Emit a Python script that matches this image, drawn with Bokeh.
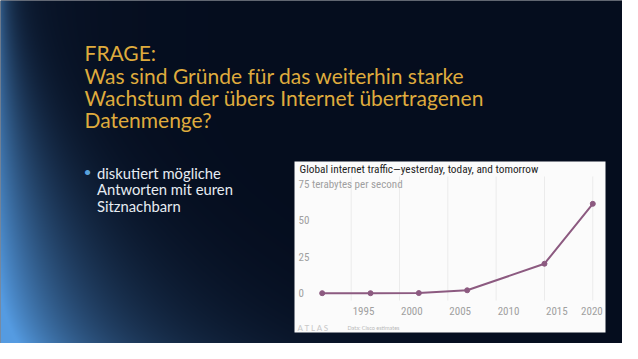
import numpy as np
from bokeh.plotting import figure
from bokeh.models import Range1d
from bokeh.core.properties import value
from bokeh.embed import file_html
from bokeh.resources import INLINE

# ---------------- data ----------------
years = [1992, 1997, 2002, 2007, 2015, 2020]
traffic_tbps = [0.0000012, 0.000028, 0.1, 2.0, 20.235, 61.386]
x_ticks = [1995, 2000, 2005, 2010, 2015, 2020]
x_tick_labels = ["1995", "2000", "2005", "2010", "2015", "2020"]
y_ticks = [0, 25, 50]
y_tick_labels = ["0", "25", "50"]
y_top_tick = [75]
y_top_label = ["75 terabytes per second"]
chart_title = "Global internet traffic\u2014yesterday, today, and tomorrow"
source_note = "Data: Cisco estimates"
brand = "A T L A S"

slide_title = ["FRAGE:", "Was sind Gr\u00fcnde f\u00fcr das weiterhin starke",
               "Wachstum der \u00fcbers Internet \u00fcbertragenen", "Datenmenge?"]
bullet_lines = ["diskutiert m\u00f6gliche", "Antworten mit euren", "Sitznachbarn"]

# ---------------- geometry (pixels, y downward) ----------------
W, H = 622, 343
SW, SH = 638, 359
CX0, CX1, CY0, CY1 = 294, 605, 161, 332   # white chart box
PX_PER_YEAR = 9.664
PX_PER_UNIT = 1.456
X_AT_1992 = 321.7
Y_AT_0 = 292.7
CHART_FONT = value("Liberation Sans Narrow, Roboto Condensed, Roboto")


def px2x(px):
    return 1992 + (px - X_AT_1992) / PX_PER_YEAR


def px2y(py):
    return (Y_AT_0 - py) / PX_PER_UNIT


# background gradient image (slide pixels)
BASE = np.array([5, 13, 30], dtype=float)
GLOW = np.array([85, 155, 225], dtype=float)
xx, yy = np.meshgrid(np.arange(SW, dtype=float), np.arange(SH, dtype=float))
t = yy / SH
w = 12 + 95 * t ** 1.5
amp = 0.42 + 0.58 * t ** 1.2
I = amp * np.exp(-xx / w)
I += 0.22 * np.exp(-(SH - yy) / 30.0) * np.exp(-xx / 170.0)
I += 0.10 * np.exp(-xx / 70.0)
I = np.clip(I, 0, 1)[..., None]
rgb = BASE + I * (GLOW - BASE)
rgb = np.flipud(rgb).astype(np.uint8)   # row 0 = bottom
img = np.empty((SH, SW), dtype=np.uint32)
view = img.view(dtype=np.uint8).reshape((SH, SW, 4))
view[..., :3] = rgb
view[..., 3] = 255

p = figure(width=W, height=H, output_backend="svg", toolbar_location=None,
           x_range=Range1d(px2x(0), px2x(W)), y_range=Range1d(px2y(H), px2y(0)),
           min_border=0, min_border_left=0, min_border_right=0,
           min_border_top=0, min_border_bottom=0)
p.axis.visible = False
p.grid.visible = False
p.outline_line_color = None
p.background_fill_color = "#050d1e"
p.border_fill_color = "#050d1e"

p.image_rgba(image=[img], x=px2x(0), y=px2y(SH), dw=SW / PX_PER_YEAR, dh=SH / PX_PER_UNIT)

# slide text
p.text(x=[px2x(84)] * 4, y=[px2y(v) for v in (52, 75, 97, 119)], text=slide_title,
       text_color="#dfab3d", text_font=value("Lato"), text_font_size="21px",
       text_baseline="middle", text_align="left")
p.text(x=[px2x(87)], y=[px2y(171)], text=["\u2022"], text_color="#5aa2dc",
       text_font=value("Lato"), text_font_size="14px", text_baseline="middle", text_align="center")
p.text(x=[px2x(96.5)] * 3, y=[px2y(v) for v in (172, 188.5, 205)], text=bullet_lines,
       text_color="#e6ecf2", text_font=value("Lato"), text_font_size="14.8px",
       text_baseline="middle", text_align="left")

# chart box
p.quad(left=px2x(CX0), right=px2x(CX1), top=px2y(CY0), bottom=px2y(CY1),
       fill_color="#fbfbfb", line_color=None)

# vertical grid
p.segment(x0=x_ticks, x1=x_ticks, y0=px2y(300), y1=px2y(176), line_color="#ebebeb", line_width=1)

# series
p.line(years, traffic_tbps, line_color="#8c5a80", line_width=2)
p.scatter(years, traffic_tbps, size=5, fill_color="#8c5a80", line_color="#8c5a80")

# y labels
p.text(x=[px2x(CX0)] * len(y_ticks), y=y_ticks, text=y_tick_labels, x_offset=4,
       text_color="#a0a0a0", text_font=CHART_FONT, text_font_size="11px",
       text_baseline="middle", text_align="left")
p.text(x=[px2x(CX0)], y=y_top_tick, text=y_top_label, x_offset=4,
       text_color="#a0a0a0", text_font=CHART_FONT, text_font_size="11px",
       text_baseline="middle", text_align="left")

# x labels (to the right of their grid line; last one kept inside the box)
p.text(x=x_ticks[:-1], y=[0] * (len(x_ticks) - 1), text=x_tick_labels[:-1], x_offset=1.5, y_offset=18,
       text_color="#a0a0a0", text_font=CHART_FONT, text_font_size="11px",
       text_baseline="middle", text_align="left")
p.text(x=x_ticks[-1:], y=[0], text=x_tick_labels[-1:], x_offset=10, y_offset=18,
       text_color="#a0a0a0", text_font=CHART_FONT, text_font_size="11px",
       text_baseline="middle", text_align="right")

# chart title and footer
p.text(x=[px2x(299)], y=[px2y(168.5)], text=[chart_title],
       text_color="#1e1e1e", text_font=CHART_FONT, text_font_size="11.3px",
       text_baseline="middle", text_align="left")
p.text(x=[px2x(297)], y=[px2y(327.5)], text=[brand],
       text_color="#c8c8c8", text_font=value("Lato"), text_font_size="8px",
       text_baseline="middle", text_align="left")
p.text(x=[px2x(347)], y=[px2y(327.5)], text=[source_note],
       text_color="#b8b8b8", text_font=value("Lato"), text_font_size="5.5px",
       text_baseline="middle", text_align="left")

open("out.html", "w").write(file_html(p, INLINE))
